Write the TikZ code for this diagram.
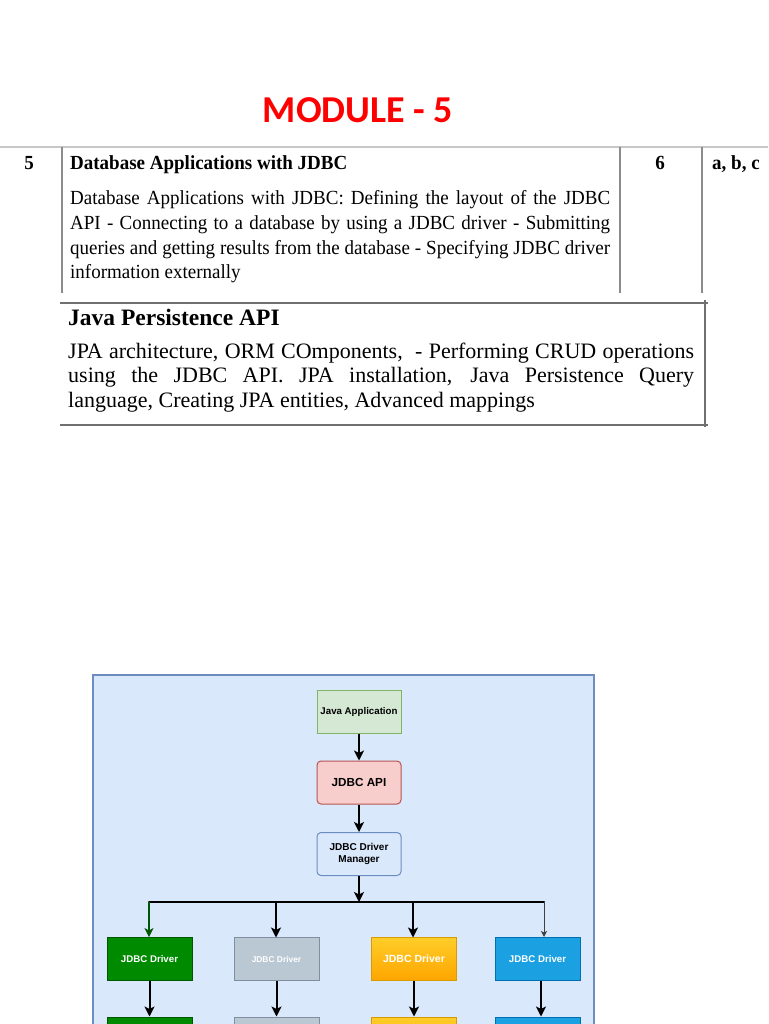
\documentclass[tikz,border=0pt]{standalone}
\usepackage{fontspec}
\setmainfont{Liberation Serif}
\newfontfamily\tabfont[FakeStretch=0.95]{Liberation Serif}
\newfontfamily\modfont{Carlito}
\newfontfamily\boxfont{Liberation Sans}
\usetikzlibrary{arrows.meta,positioning}
\newcommand{\BODYA}{540pt}
\newcommand{\BODYB}{626pt}
\newcommand{\ARROWPT}{2pt}
\definecolor{modred}{rgb}{1.0,0.0,0.0}
\definecolor{rulegray}{rgb}{0.55,0.55,0.55}
\definecolor{toprule}{rgb}{0.78,0.78,0.78}
\definecolor{bgblue}{HTML}{DAE8FC}
\definecolor{bdblue}{HTML}{6C8EBF}
\definecolor{appfill}{HTML}{D5E8D4}
\definecolor{appdraw}{HTML}{82B366}
\definecolor{apifill}{HTML}{F8CECC}
\definecolor{apidraw}{HTML}{B85450}
\definecolor{drvgreen}{HTML}{008A00}
\definecolor{drvgreenbd}{HTML}{005700}
\definecolor{drvgray}{HTML}{BAC8D3}
\definecolor{drvgraybd}{HTML}{7F8FA0}
\definecolor{drvorangetop}{HTML}{FFCD28}
\definecolor{drvorangebot}{HTML}{FFA500}
\definecolor{drvorangebd}{HTML}{D79B00}
\definecolor{drvblue}{HTML}{1BA1E2}
\definecolor{drvbluebd}{HTML}{006EAF}
\tikzset{
  tabtxt/.style={inner sep=0pt,font=\tabfont\fontsize{20}{24.5}\selectfont},
  jpatxt/.style={inner sep=0pt,font=\fontsize{22}{24.5}\selectfont},
  archbox/.style={draw,line width=1pt,minimum width=84pt,minimum height=43pt,inner sep=1pt,
    align=center,font=\boxfont\bfseries\fontsize{9.7}{11.5}\selectfont},
  drvbox/.style={archbox,text=white,minimum width=85pt},
  flowarrow/.style={line width=\ARROWPT,-{Stealth[length=10pt,width=10pt,inset=2.5pt]}},
}
\begin{document}
\begin{tikzpicture}[x=1pt,y=-1pt]
	\useasboundingbox (0,0) rectangle (768,1024);
	\clip (0,0) rectangle (768,1024);
	\fill[white] (0,0) rectangle (768,1024);

		%% heading
		\node[inner sep=0pt,text=modred,font=\modfont\bfseries\fontsize{38}{40}\selectfont] (module) at (358,110) {MODULE - 5};

		%% first table
		\draw[toprule,line width=1.5pt] (0,147) -- (768,147);
		\draw[rulegray,line width=1.2pt] (62,147) -- (62,293);
		\draw[rulegray,line width=1.2pt] (620,147) -- (620,293);
		\draw[rulegray,line width=1.2pt] (702,147) -- (702,293);

		\node[tabtxt,anchor=base] (unitno) at (29,170) {\bfseries 5};
		\node[tabtxt,anchor=base west] (unithead) at (70,170) {\bfseries Database Applications with JDBC};
		\node[tabtxt,anchor=base west] (unitA) at (70,205) {\makebox[\BODYA][s]{Database Applications with JDBC: Defining the layout of the JDBC}};
		\node[tabtxt,anchor=base west] (unitB) at (70,229.5) {\makebox[\BODYA][s]{API - Connecting to a database by using a JDBC driver - Submitting}};
		\node[tabtxt,anchor=base west] (unitC) at (70,254) {\makebox[\BODYA][s]{queries and getting results from the database - Specifying JDBC driver}};
		\node[tabtxt,anchor=base west] (unitD) at (70,278.5) {information externally};
		\node[tabtxt,anchor=base] (hours) at (660,170) {\bfseries 6};
		\node[tabtxt,anchor=base west] (outcomes) at (712,170) {\bfseries a, b, c};

		%% second table
		\draw[rulegray!80!black,line width=1.5pt] (60,303) -- (708,303);
		\draw[rulegray!80!black,line width=1.5pt] (705,300) -- (705,427);
		\draw[rulegray!80!black,line width=1.5pt] (60,425) -- (708,425);

		\node[jpatxt,anchor=base west,font=\bfseries\fontsize{23.5}{26}\selectfont] (jpahead) at (68,325) {Java Persistence API};
		\node[jpatxt,anchor=base west] (jpaA) at (68,358) {\makebox[\BODYB][s]{JPA architecture, ORM COmponents,\ \ - Performing CRUD operations}};
		\node[jpatxt,anchor=base west] (jpaB) at (68,382.5) {\makebox[\BODYB][s]{using the JDBC API. JPA installation, Java Persistence Query}};
		\node[jpatxt,anchor=base west] (jpaC) at (68,407) {language, Creating JPA entities, Advanced mappings};

		%% architecture diagram
		\draw[fill=bgblue,draw=bdblue,line width=2pt] (93,675) rectangle (594,1060);

		\node[archbox,fill=appfill,draw=appdraw] (japp) at (359,711.5) {Java Application};
		\node[archbox,fill=apifill,draw=apidraw,rounded corners=4pt,font=\boxfont\bfseries\fontsize{11.7}{14}\selectfont] (jdbcapi) at (359,782.5) {JDBC API};
		\node[archbox,fill=bgblue,draw=bdblue,rounded corners=4pt,font=\boxfont\bfseries\fontsize{10}{12.5}\selectfont] (drvmgr) at (359,854) {JDBC Driver\\Manager};

		\draw[flowarrow] (japp) -- (jdbcapi);
		\draw[flowarrow] (jdbcapi) -- (drvmgr);

		\coordinate (jmid) at (359,902);
		\coordinate (jleft) at (149,902);
		\coordinate (jright) at (544,902);
		\draw[flowarrow] (drvmgr) -- (jmid);
		\draw[line width=\ARROWPT,line cap=round] (jleft) -- (jright);

		\node[drvbox,fill=drvgreen,draw=drvgreenbd] (drvA) at (149.5,959) {JDBC Driver};
		\node[drvbox,fill=drvgray,draw=drvgraybd,font=\boxfont\bfseries\fontsize{8.4}{10}\selectfont] (drvB) at (276.5,959) {JDBC Driver};
		\node[drvbox,top color=drvorangetop,bottom color=drvorangebot,draw=drvorangebd,font=\boxfont\bfseries\fontsize{10.5}{12}\selectfont] (drvC) at (414,959) {JDBC Driver};
		\node[drvbox,fill=drvblue,draw=drvbluebd] (drvD) at (537.5,959) {JDBC Driver};

		\node[drvbox,fill=drvgreen,draw=drvgreenbd] (drvAb) at (149.5,1038.5) {};
		\node[drvbox,fill=drvgray,draw=drvgraybd] (drvBb) at (276.5,1038.5) {};
		\node[drvbox,top color=drvorangetop,bottom color=drvorangebot,draw=drvorangebd] (drvCb) at (414,1038.5) {};
		\node[drvbox,fill=drvblue,draw=drvbluebd] (drvDb) at (537.5,1038.5) {};

		\draw[line width=1.5pt,drvgreenbd,-{Stealth[length=9pt,width=9pt,inset=2.5pt]}] (jleft) -- (jleft |- drvA.north);
		\draw[flowarrow] (276,902) -- (276,937.5);
		\draw[flowarrow] (413,902) -- (413,937.5);
		\draw[line width=1pt,black!75,-{Stealth[length=6pt,width=6pt,inset=1.5pt]}] (jright) -- (jright |- drvD.north);

		\draw[flowarrow] (drvA) -- (drvAb);
		\draw[flowarrow] (drvB) -- (drvBb);
		\draw[flowarrow] (drvC) -- (drvCb);
		\draw[flowarrow] (drvD.south -| 541,0) -- (drvDb.north -| 541,0);

	\end{tikzpicture}
\end{document}
